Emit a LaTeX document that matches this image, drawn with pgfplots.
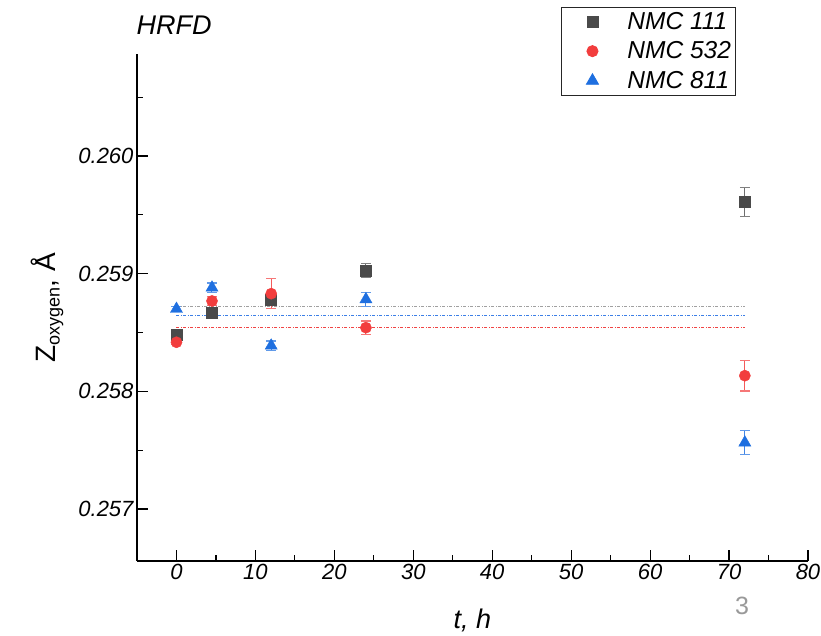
\documentclass[border=0pt]{standalone}
\usepackage{fontspec}
\setmainfont{Liberation Sans}
\usepackage{pgfplots}
\pgfplotsset{compat=1.18}
\usepackage{pgfplotstable}
\definecolor{cgray}{HTML}{4A4A4A}
\definecolor{cred}{HTML}{F23D3D}
\definecolor{cblue}{HTML}{1E6FE0}
\definecolor{lgray}{HTML}{A0A0A0}
\definecolor{lblue}{HTML}{3C7FE6}
\definecolor{lred}{HTML}{F04444}
\pgfplotstableread{
x y e
0 0.258485 0.00003
4.5 0.258672 0.00002
12 0.258782 0.00004
24 0.259026 0.000058
72 0.259609 0.00012
}\nmcA
\pgfplotstableread{
x y e
0 0.258417 0.00002
4.5 0.258768 0.00004
12 0.258830 0.000127
24 0.258541 0.000057
72 0.258133 0.00013
}\nmcB
\pgfplotstableread{
x y e
0 0.258700 0.00002
4.5 0.258881 0.00004
12 0.258388 0.00004
24 0.258782 0.00006
72 0.257564 0.0001
}\nmcC
\begin{document}
\begin{tikzpicture}
\useasboundingbox (-137pt,-75pt) rectangle (684pt,561pt);
\begin{axis}[
  scale only axis, width=671pt, height=507pt,
  xmin=-5, xmax=80, ymin=0.256558, ymax=0.260867,
  axis x line*=bottom, axis y line*=left,
  axis line style={line width=1.3pt, -},
  tick align=inside,
  major tick length=11pt, minor tick length=6pt,
  every tick/.style={black, line width=1.2pt},
  xtick={0,10,...,80}, minor xtick={5,15,...,75},
  ytick={0.257,0.258,0.259,0.260}, minor ytick={0.2565,0.2575,0.2585,0.2595,0.2605},
  scaled y ticks=false,
  yticklabel style={/pgf/number format/.cd, fixed, fixed zerofill, precision=3, assume math mode=true},
  xticklabel style={/pgf/number format/assume math mode=true},
  tick label style={font=\fontsize{22}{26}\selectfont\itshape},
  xlabel={t, h},
  xlabel style={at={(axis description cs:0.5,-0.1164)}, anchor=center, font=\fontsize{27}{32}\selectfont\itshape},
  ylabel={Z\raisebox{-0.3ex}{\fontsize{18}{22}\selectfont oxygen}, Å},
  ylabel style={at={(axis description cs:-0.134,0.5)}, anchor=center, font=\fontsize{28}{32}\selectfont},
  clip=false,
  legend style={at={(0.632,1.093)}, anchor=north west, draw=black!85, line width=0.8pt,
    font=\fontsize{24.5}{28}\selectfont\itshape, inner xsep=2pt, inner ysep=3pt,
    nodes={inner sep=2pt}, row sep=7pt},
  legend cell align=left,
  legend image code/.code={\path[draw=none,fill=none] (0pt,0pt) -- (62pt,0pt); \draw[#1] plot coordinates {(29pt,0pt)};},
]
\addplot[forget plot, draw=lgray, line width=1.1pt, dash pattern=on 3pt off 1.5pt on 1pt off 1.5pt] coordinates {(0,0.25872) (72,0.25872)};
\addplot[forget plot, draw=lblue, line width=1.1pt, dash pattern=on 3pt off 1.5pt on 1pt off 1.5pt] coordinates {(0,0.258647) (72,0.258647)};
\addplot[forget plot, draw=lred, line width=1.1pt, dash pattern=on 3pt off 1.5pt on 1pt off 1.5pt] coordinates {(0,0.258545) (72,0.258545)};
\addplot[only marks, mark=square*, mark size=5.5pt, color=cgray, mark options={fill=cgray, draw=cgray},
  error bars/.cd, y dir=both, y explicit, error bar style={line width=1pt, cgray!80},
  error mark options={line width=1.2pt, mark size=5pt, cgray!70, rotate=90}]
  table[x=x, y=y, y error=e] {\nmcA};
\addlegendentry{NMC 111}
\addplot[only marks, mark=*, mark size=5.6pt, color=cred, mark options={fill=cred, draw=cred},
  error bars/.cd, y dir=both, y explicit, error bar style={line width=1pt, cred!85},
  error mark options={line width=1.2pt, mark size=5pt, cred!70, rotate=90}]
  table[x=x, y=y, y error=e] {\nmcB};
\addlegendentry{NMC 532}
\addplot[only marks, mark=triangle*, mark size=7pt, color=cblue, mark options={fill=cblue, draw=cblue},
  error bars/.cd, y dir=both, y explicit, error bar style={line width=1pt, cblue!85},
  error mark options={line width=1.2pt, mark size=5pt, cblue!70, rotate=90}]
  table[x=x, y=y, y error=e] {\nmcC};
\addlegendentry{NMC 811}
\node[anchor=west, font=\fontsize{27}{32}\selectfont\itshape] at ([xshift=-4pt,yshift=29pt]rel axis cs:0,1) {HRFD};
\node[anchor=center, font=\fontsize{25}{30}\selectfont, text=black!40] at (rel axis cs:0.9016,-0.0888) {3};
\end{axis}
\end{tikzpicture}
\end{document}
